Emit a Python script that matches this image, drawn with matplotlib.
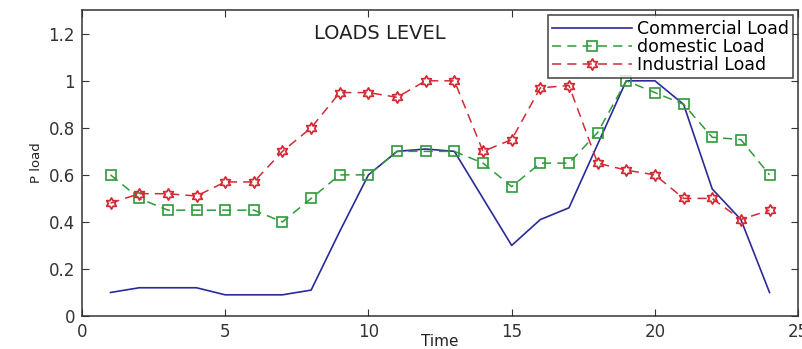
import numpy as np
import matplotlib
matplotlib.use("Agg")
import matplotlib.pyplot as plt
from matplotlib.path import Path

plt.rcParams['font.family'] = ['DejaVu Sans']

time = list(range(1, 25))
commercial = [0.10, 0.12, 0.12, 0.12, 0.09, 0.09, 0.09, 0.11, 0.36, 0.60, 0.70, 0.71,
              0.70, 0.50, 0.30, 0.41, 0.46, 0.73, 1.00, 1.00, 0.90, 0.54, 0.41, 0.10]
domestic = [0.60, 0.50, 0.45, 0.45, 0.45, 0.45, 0.40, 0.50, 0.60, 0.60, 0.70, 0.70,
            0.70, 0.65, 0.55, 0.65, 0.65, 0.78, 1.00, 0.95, 0.90, 0.76, 0.75, 0.60]
industrial = [0.48, 0.52, 0.52, 0.51, 0.57, 0.57, 0.70, 0.80, 0.95, 0.95, 0.93, 1.00,
              1.00, 0.70, 0.75, 0.97, 0.98, 0.65, 0.62, 0.60, 0.50, 0.50, 0.41, 0.45]
labels = ['Commercial Load', 'domestic Load', 'Industrial Load']

# hexagram marker shape
ang = np.deg2rad(90 + np.arange(12) * 30)
rad = np.where(np.arange(12) % 2 == 0, 1.0, 1 / np.sqrt(3))
verts = np.column_stack([rad * np.cos(ang), rad * np.sin(ang)])
verts = np.vstack([verts, verts[0]])
hexagram = Path(verts, [Path.MOVETO] + [Path.LINETO] * 11 + [Path.CLOSEPOLY])

fig = plt.figure(figsize=(8.03, 3.49), dpi=100)
ax = fig.add_axes([0.102, 0.0946, 0.892, 0.876])

blue = '#2a2a9a'
green = '#2f9a3a'
red = '#d42a35'

ax.plot(time, commercial, '-', color=blue, lw=1.2, label=labels[0])
ax.plot(time, domestic, '--', color=green, lw=1.1, marker='s', markersize=7.5,
        markerfacecolor='none', markeredgecolor=green, markeredgewidth=1.2,
        dashes=(6, 4), label=labels[1])
ax.plot(time, industrial, '--', color=red, lw=1.1, marker=hexagram, markersize=8,
        markerfacecolor='none', markeredgecolor=red, markeredgewidth=1.3,
        dashes=(6, 4), label=labels[2])

ax.set_xlim(0, 25)
ax.set_ylim(0, 1.3)
ax.set_xticks([0, 5, 10, 15, 20, 25])
ax.set_yticks([0, 0.2, 0.4, 0.6, 0.8, 1.0, 1.2])
ax.set_yticklabels(['0', '0.2', '0.4', '0.6', '0.8', '1', '1.2'])
ax.tick_params(direction='in', top=True, right=True, labelsize=12, length=5,
               colors='#333333', labelcolor='#333333', pad=5)
for s in ax.spines.values():
    s.set_color('#333333')
    s.set_linewidth(1.1)

ax.text(10.4, 1.2, 'LOADS LEVEL', fontsize=14, ha='center', va='center', color='#222222')
ax.set_xlabel('Time', fontsize=11, color='#222222')
ax.xaxis.set_label_coords(0.5, -0.06)
ax.set_ylabel('P load', fontsize=9.5, color='#222222', labelpad=4)

leg = ax.legend(loc='upper right', fontsize=12.5, frameon=True, fancybox=False,
                edgecolor='#222222', borderpad=0.25, labelspacing=0.0,
                handlelength=4.6, handletextpad=0.25, borderaxespad=0.3)
leg.get_frame().set_linewidth(1.2)

fig.savefig('out.png', dpi=100)
